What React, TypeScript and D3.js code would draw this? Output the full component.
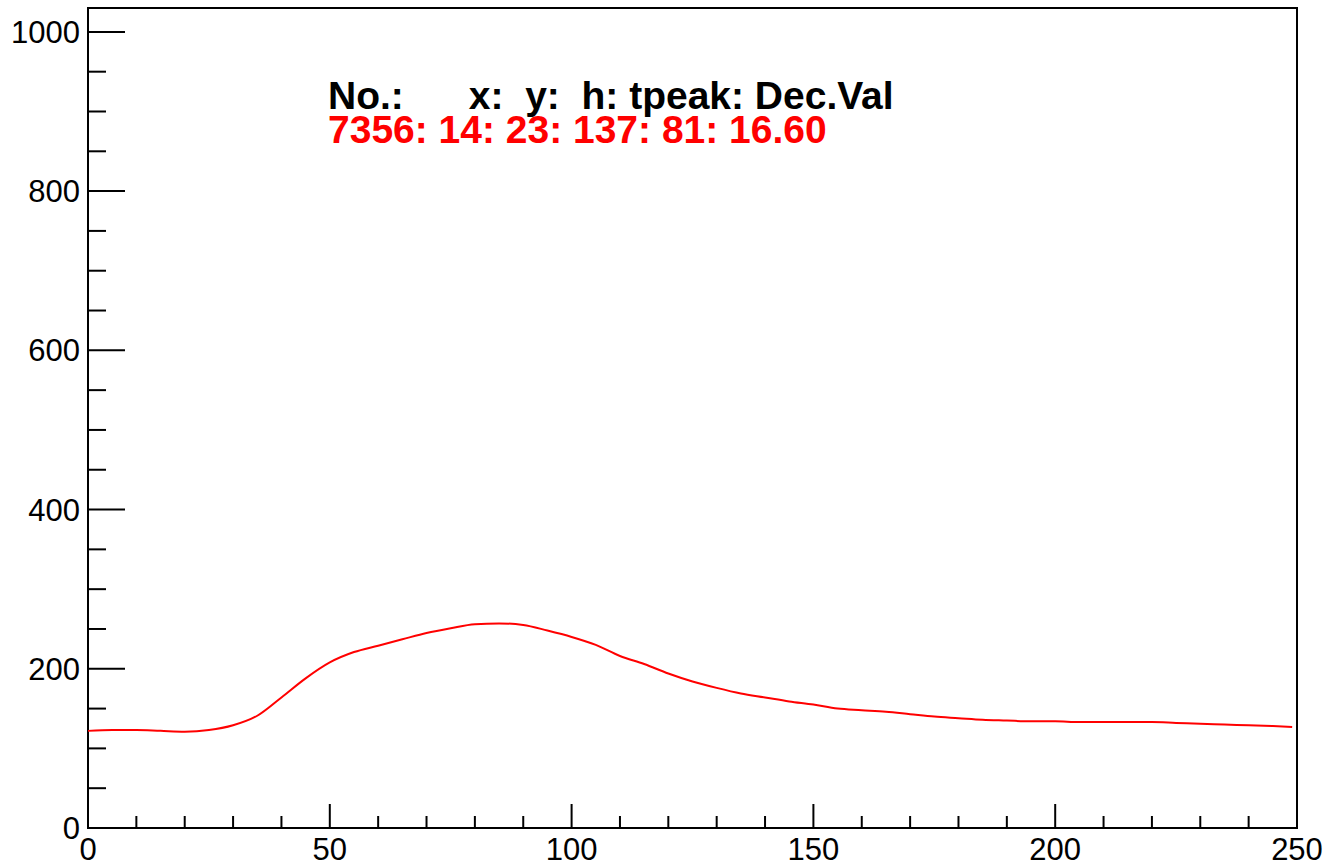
import * as d3 from 'd3';

// ── Data ──────────────────────────────────────────────────────────────────
const sampleX = [
  0, 5, 10, 15, 20, 25, 30, 35, 40, 45, 50, 55, 60, 65, 70, 75, 80, 85, 90, 95,
  100, 105, 110, 115, 120, 125, 130, 135, 140, 145, 150, 155, 160, 165, 170, 175,
  180, 185, 190, 195, 200, 205, 210, 215, 220, 225, 230, 235, 240, 245, 249,
];
const sampleY = [
  122, 123, 123, 122, 121, 123, 129, 141, 164, 188, 208, 221, 229, 237, 245, 251, 256, 257, 255, 248,
  240, 230, 216, 206, 194, 184, 176, 169, 164, 159, 155, 150, 148, 146, 143, 140,
  138, 136, 135, 134, 134, 133, 133, 133, 133, 132, 131, 130, 129, 128, 127,
];
const xTicks = [0, 50, 100, 150, 200, 250];
const yTicks = [0, 200, 400, 600, 800, 1000];
const headerLine = 'No.:      x:  y:  h: tpeak: Dec.Val';
const valueLine = '7356: 14: 23: 137: 81: 16.60';

const W = 1326;
const H = 866;
const M = { left: 88, right: 1297, top: 8, bottom: 828 };
const FONT = '"Liberation Sans", Arial, Helvetica, sans-serif';

export default function App() {
  const x = d3.scaleLinear().domain([0, 250]).range([M.left, M.right]);
  const y = d3.scaleLinear().domain([0, 1030]).range([M.bottom, M.top]);

  const pts = sampleX.map((v, i) => [v, sampleY[i]] as [number, number]);
  const line = d3.line<[number, number]>()
    .x(d => x(d[0]))
    .y(d => y(d[1]))
    .curve(d3.curveMonotoneX);

  const xMinor = d3.range(0, 251, 10).filter(v => v % 50 !== 0);
  const yMinor = d3.range(0, 1030, 50).filter(v => v % 200 !== 0);

  return (
    <svg width={W} height={H} style={{ position: 'absolute', left: 0, top: 0, background: '#fff' }}>
      <rect x={0} y={0} width={W} height={H} fill="#fff" />

      {/* frame */}
      <rect x={M.left} y={M.top} width={M.right - M.left} height={M.bottom - M.top}
        fill="none" stroke="#000" strokeWidth={2} />

      {/* y ticks */}
      {yTicks.map(v => (
        <line key={'ym' + v} x1={M.left} x2={M.left + 37} y1={y(v)} y2={y(v)} stroke="#000" strokeWidth={2} />
      ))}
      {yMinor.map(v => (
        <line key={'yn' + v} x1={M.left} x2={M.left + 18} y1={y(v)} y2={y(v)} stroke="#000" strokeWidth={2} />
      ))}
      {yTicks.map(v => (
        <text key={'yl' + v} x={M.left - 8} y={y(v)} dy="0.36em" textAnchor="end"
          fontFamily={FONT} fontSize={31} fill="#000">{v}</text>
      ))}

      {/* x ticks */}
      {xTicks.map(v => (
        <line key={'xm' + v} x1={x(v)} x2={x(v)} y1={M.bottom} y2={M.bottom - 24} stroke="#000" strokeWidth={2} />
      ))}
      {xMinor.map(v => (
        <line key={'xn' + v} x1={x(v)} x2={x(v)} y1={M.bottom} y2={M.bottom - 12} stroke="#000" strokeWidth={2} />
      ))}
      {xTicks.map(v => (
        <text key={'xl' + v} x={x(v)} y={860} textAnchor="middle"
          fontFamily={FONT} fontSize={31} fill="#000">{v}</text>
      ))}

      {/* signal */}
      <path d={line(pts) ?? ''} fill="none" stroke="#ff0000" strokeWidth={2} />

      {/* header */}
      <text x={328} y={109} fontFamily={FONT} fontSize={39} fontWeight="bold" fill="#000"
        style={{ whiteSpace: 'pre' }}>{headerLine}</text>
      <text x={328} y={143} fontFamily={FONT} fontSize={39} fontWeight="bold" fill="#ff0000"
        style={{ whiteSpace: 'pre' }}>{valueLine}</text>
    </svg>
  );
}
